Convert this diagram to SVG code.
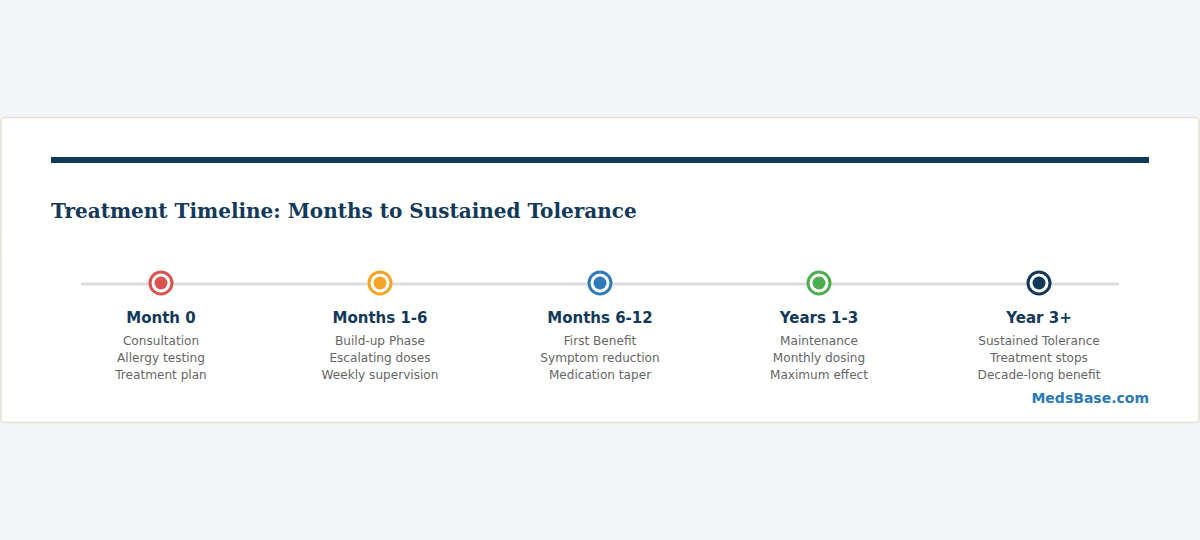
<svg xmlns="http://www.w3.org/2000/svg" width="1200" height="540" viewBox="0 0 1200 540">
<style>
.h{font-family:"DejaVu Sans",sans-serif;font-weight:bold;font-size:15px;fill:#12395a;text-anchor:middle}
.d{font-family:"DejaVu Sans",sans-serif;font-size:12.1px;fill:#666;text-anchor:middle}
.ring{fill:#fff;stroke-width:3}
</style>
<rect width="1200" height="540" fill="#f3f6f9"/>
<rect x="1" y="117.5" width="1198" height="305" rx="4" fill="#fff" stroke="#e6e1d6" stroke-width="1.5"/>
<rect x="51" y="157" width="1098" height="6" fill="#12395a"/>
<text x="51" y="218" font-family="DejaVu Serif,serif" font-weight="bold" font-size="20" fill="#12395a">Treatment Timeline: Months to Sustained Tolerance</text>
<g id="connectors">
<line x1="81" y1="284" x2="1119" y2="284" stroke="#ddd" stroke-width="3"/>
</g>
<g id="n0">
<circle class="ring" cx="161" cy="283" r="11" stroke="#d9534f"/><circle cx="161" cy="283" r="6.5" fill="#d9534f"/>
<text class="h" x="161" y="323">Month 0</text>
<text class="d" x="161" y="345">Consultation</text><text class="d" x="161" y="362">Allergy testing</text><text class="d" x="161" y="379">Treatment plan</text>
</g>
<g id="n1">
<circle class="ring" cx="380" cy="283" r="11" stroke="#f2a527"/><circle cx="380" cy="283" r="6.5" fill="#f2a527"/>
<text class="h" x="380" y="323">Months 1-6</text>
<text class="d" x="380" y="345">Build-up Phase</text><text class="d" x="380" y="362">Escalating doses</text><text class="d" x="380" y="379">Weekly supervision</text>
</g>
<g id="n2">
<circle class="ring" cx="600" cy="283" r="11" stroke="#2e7bb6"/><circle cx="600" cy="283" r="6.5" fill="#2e7bb6"/>
<text class="h" x="600" y="323">Months 6-12</text>
<text class="d" x="600" y="345">First Benefit</text><text class="d" x="600" y="362">Symptom reduction</text><text class="d" x="600" y="379">Medication taper</text>
</g>
<g id="n3">
<circle class="ring" cx="819" cy="283" r="11" stroke="#4cae4f"/><circle cx="819" cy="283" r="6.5" fill="#4cae4f"/>
<text class="h" x="819" y="323">Years 1-3</text>
<text class="d" x="819" y="345">Maintenance</text><text class="d" x="819" y="362">Monthly dosing</text><text class="d" x="819" y="379">Maximum effect</text>
</g>
<g id="n4">
<circle class="ring" cx="1039" cy="283" r="11" stroke="#12395a"/><circle cx="1039" cy="283" r="6.5" fill="#12395a"/>
<text class="h" x="1039" y="323">Year 3+</text>
<text class="d" x="1039" y="345">Sustained Tolerance</text><text class="d" x="1039" y="362">Treatment stops</text><text class="d" x="1039" y="379">Decade-long benefit</text>
</g>
<text x="1149" y="403" font-family="DejaVu Sans,sans-serif" font-weight="bold" font-size="14" fill="#2a7ab5" text-anchor="end">MedsBase.com</text>
</svg>
